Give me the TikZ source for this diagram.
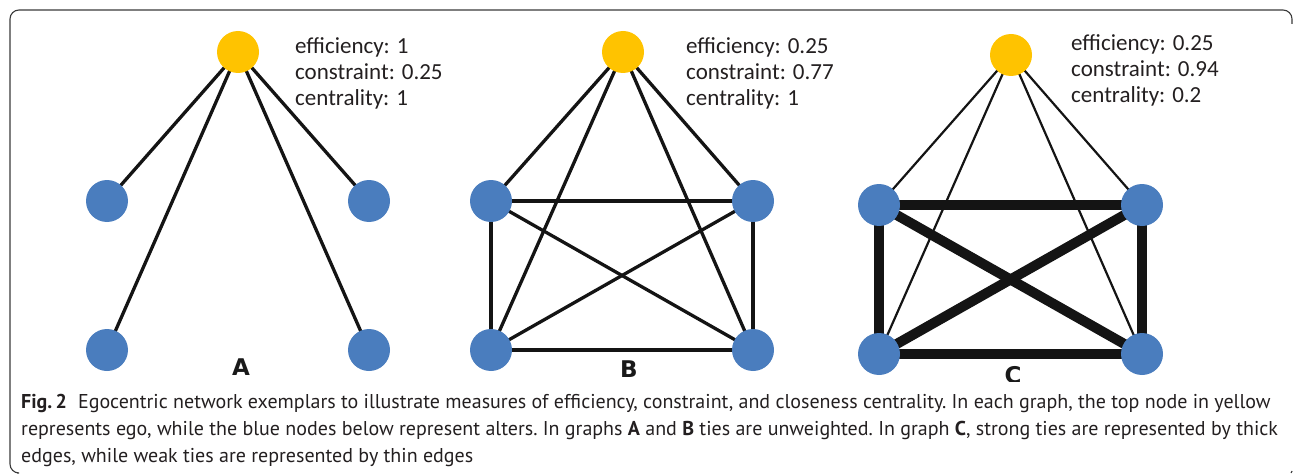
\documentclass[tikz,border=0pt]{standalone}
\usepackage{fontspec}
\setmainfont{PT Sans}
\newfontfamily\metfont{Carlito}
\newfontfamily\lblfont{DejaVu Sans}
\newfontfamily\capfont{PT Sans}
\pgfdeclarelayer{bg}
\pgfsetlayers{bg,main}
\definecolor{egoc}{HTML}{FFC300}
\definecolor{altc}{HTML}{4A7DBE}
\definecolor{framec}{HTML}{3A3A3A}
\definecolor{txtc}{HTML}{231F20}
\tikzset{
  ego/.style={circle, fill=egoc, minimum size=42pt, inner sep=0pt},
  alter/.style={circle, fill=altc, minimum size=42pt, inner sep=0pt},
  tie/.style={line width=3.3pt, black!92},
  weaktie/.style={line width=2.2pt, black!92},
  strongtie/.style={line width=10pt, black!92},
  metric/.style={anchor=base west, inner sep=0pt, text=txtc, font=\metfont\fontsize{23}{26}\selectfont},
  glabel/.style={anchor=base, inner sep=0pt, text=black!90, font=\lblfont\bfseries\fontsize{23}{26}\selectfont},
  capline/.style={anchor=base west, inner sep=0pt, text=txtc, font=\capfont\fontsize{20}{27}\selectfont\frenchspacing}
}
\begin{document}
\begin{tikzpicture}[x=1pt,y=-1pt]
\useasboundingbox (0,0) rectangle (1293,476);
% frame
\draw[framec, line width=1.1pt, rounded corners=9pt] (17,473) -- (10,473) -- (10,10) -- (1292,10) -- (1292,24);
\draw[framec, line width=1.1pt] (1292,471) -- (1291,473);

% Graph A
\node[ego] (ya) at (238,52) {};
\node[alter] (a1) at (107,201) {};
\node[alter] (a2) at (369,201) {};
\node[alter] (a3) at (107,350) {};
\node[alter] (a4) at (369,350) {};
\begin{pgfonlayer}{bg}
\foreach \t in {a1,a2,a3,a4} \draw[tie] (ya.center) -- (\t.center);
\end{pgfonlayer}
\node[metric] (ma1) at (295,54) {efficiency: 1};
\node[metric] (ma2) at (295,80) {constraint: 0.25};
\node[metric] (ma3) at (295,106) {centrality: 1};
\node[glabel] (la) at (241,375) {A};

% Graph B
\node[ego] (yb) at (623,52) {};
\node[alter] (b1) at (491,201) {};
\node[alter] (b2) at (753,201) {};
\node[alter] (b3) at (491,350) {};
\node[alter] (b4) at (753,350) {};
\begin{pgfonlayer}{bg}
\foreach \t in {b1,b2,b3,b4} \draw[tie] (yb.center) -- (\t.center);
\draw[tie] (b1.center) -- (b2.center);
\draw[tie] (b3.center) -- (b4.center);
\draw[tie] (b1.center) -- (b3.center);
\draw[tie] (b2.center) -- (b4.center);
\draw[tie] (b1.center) -- (b4.center);
\draw[tie] (b2.center) -- (b3.center);
\end{pgfonlayer}
\node[metric] (mb1) at (686,54) {efficiency: 0.25};
\node[metric] (mb2) at (686,80) {constraint: 0.77};
\node[metric] (mb3) at (686,106) {centrality: 1};
\node[glabel] (lb) at (629,377) {B};

% Graph C
\node[ego] (yc) at (1011,55) {};
\node[alter] (c1) at (879,205) {};
\node[alter] (c2) at (1142,205) {};
\node[alter] (c3) at (879,354) {};
\node[alter] (c4) at (1142,354) {};
\begin{pgfonlayer}{bg}
\foreach \t in {c1,c2,c3,c4} \draw[weaktie] (yc.center) -- (\t.center);
\draw[strongtie] (c1.center) -- (c2.center);
\draw[strongtie] (c3.center) -- (c4.center);
\draw[strongtie] (c1.center) -- (c3.center);
\draw[strongtie] (c2.center) -- (c4.center);
\draw[strongtie] (c1.center) -- (c4.center);
\draw[strongtie] (c2.center) -- (c3.center);
\end{pgfonlayer}
\node[metric] (mc1) at (1071,51) {efficiency: 0.25};
\node[metric] (mc2) at (1071,77) {constraint: 0.94};
\node[metric] (mc3) at (1071,103) {centrality: 0.2};
\begin{scope}
\clip (950,340) rectangle (1080,381);
\node[glabel] (lc) at (1013,383) {C};
\end{scope}

% caption
\node[capline] (cap1) at (21,408) {\textbf{Fig.\,2}\hspace{0.55em}Egocentric network exemplars to illustrate measures of efficiency, constraint, and closeness centrality. In each graph, the top node in yellow};
\node[capline] (cap2) at (21,435) {represents ego, while the blue nodes below represent alters. In graphs \textbf{A} and \textbf{B} ties are unweighted. In graph \textbf{C}, strong ties are represented by thick};
\node[capline] (cap3) at (21,462) {edges, while weak ties are represented by thin edges};
\end{tikzpicture}
\end{document}
